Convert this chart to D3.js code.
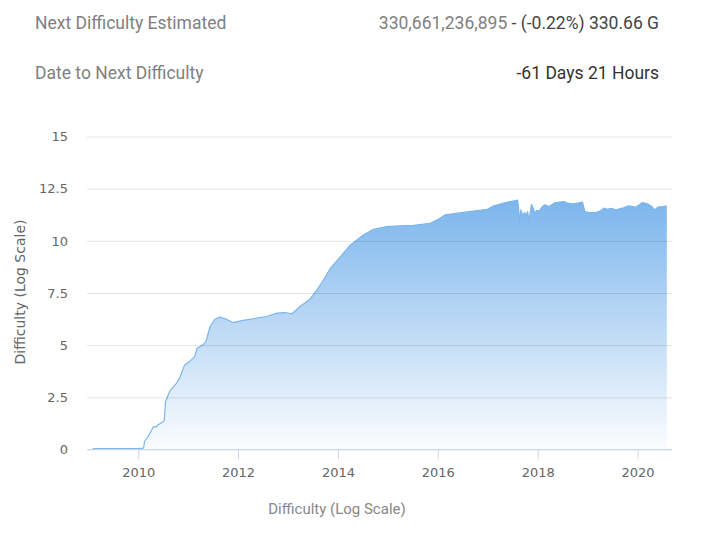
<!DOCTYPE html>
<html>
<head>
<meta charset="utf-8">
<script src="https://cdn.jsdelivr.net/npm/d3@7"></script>
<style>
  html, body { margin: 0; padding: 0; background: #fff; }
  svg { display: block; }
</style>
</head>
<body>
<svg id="chart" width="704" height="546"></svg>
<script>
// ---- Data (log10 of difficulty) ----
const dates = [
  "2009-02-06","2009-12-28","2010-02-13","2010-02-20","2010-03-18","2010-04-27","2010-05-12","2010-05-30",
  "2010-07-09","2010-07-14","2010-07-24","2010-08-22","2010-10-12","2010-11-03","2010-12-10","2011-01-15",
  "2011-02-21","2011-03-11","2011-04-23","2011-05-15","2011-06-14","2011-07-19","2011-08-25","2011-10-12",
  "2011-11-28","2012-02-10","2012-05-19","2012-07-31","2012-10-16","2012-12-13","2013-02-03","2013-04-02",
  "2013-06-14","2013-08-04","2013-09-21","2013-11-10","2014-01-23","2014-04-06","2014-07-09","2014-09-21",
  "2014-12-28","2015-04-05","2015-07-13","2015-11-10","2016-01-01","2016-02-28","2016-08-08","2017-01-01",
  "2017-02-18","2017-05-15","2017-07-27","2017-08-11","2017-08-19","2017-08-26","2017-09-03","2017-09-16",
  "2017-10-01","2017-10-13","2017-10-23","2017-11-03","2017-11-12","2017-11-21","2017-12-05","2017-12-16",
  "2017-12-27","2018-01-15","2018-02-09","2018-02-27","2018-03-29","2018-05-04","2018-06-10","2018-07-16",
  "2018-08-11","2018-09-16","2018-10-23","2018-11-28","2018-12-16","2019-01-15","2019-03-07","2019-04-12",
  "2019-05-04","2019-05-30","2019-06-24","2019-07-31","2019-09-16","2019-10-30","2019-12-24","2020-01-18",
  "2020-02-09","2020-03-17","2020-04-19","2020-05-07","2020-06-01","2020-07-08","2020-08-06"
];
const values = [
  0.02, 0.02, 0.04, 0.36, 0.60, 1.08, 1.04, 1.16,
  1.32, 1.38, 2.28, 2.76, 3.16, 3.40, 4.03, 4.19,
  4.43, 4.83, 4.99, 5.15, 5.87, 6.22, 6.32, 6.22,
  6.06, 6.16, 6.27, 6.35, 6.51, 6.54, 6.48, 6.83,
  7.18, 7.63, 8.10, 8.66, 9.22, 9.78, 10.26, 10.53,
  10.66, 10.69, 10.72, 10.82, 10.98, 11.22, 11.36, 11.49,
  11.65, 11.81, 11.91, 11.93, 11.40, 10.85, 11.46, 11.20,
  11.33, 11.18, 11.38, 10.90, 11.38, 11.72, 11.50, 11.28,
  11.43, 11.41, 11.62, 11.70, 11.62, 11.78, 11.83, 11.86,
  11.78, 11.75, 11.78, 11.83, 11.38, 11.33, 11.33, 11.43,
  11.54, 11.49, 11.54, 11.46, 11.54, 11.65, 11.59, 11.70,
  11.81, 11.75, 11.62, 11.46, 11.59, 11.62, 11.65
];
const yTicks = [0, 2.5, 5, 7.5, 10, 12.5, 15];
const xTickYears = ["2010", "2012", "2014", "2016", "2018", "2020"];

const headerLabels = ["Next Difficulty Estimated", "Date to Next Difficulty"];
const estimateNumber = "330,661,236,895";
const estimateRest = " - (-0.22%) 330.66 G";
const timeLeft = "-61 Days 21 Hours";
const yTitle = "Difficulty (Log Scale)";
const xTitle = "Difficulty (Log Scale)";

(function () {
  const svg = d3.select("#chart");
  const pLeft = 87, pRight = 672, pTop = 136, pBottom = 449;
  const parse = d3.timeParse("%Y-%m-%d");
  const data = dates.map((d, i) => ({ date: parse(d), value: values[i] }));

  const x = d3.scaleTime()
    .domain([parse("2008-12-26"), parse("2020-09-13")])
    .range([pLeft, pRight]);
  const y = d3.scaleLinear().domain([0, 15]).range([pBottom, pTop]);

  // ---- Header ----
  const hdrFont = "Roboto, 'Open Sans', sans-serif";
  const hdrSize = 17.5;
  svg.append("text").attr("x", 35).attr("y", 29)
    .attr("font-family", hdrFont).attr("font-size", hdrSize).attr("fill", "#808080")
    .text(headerLabels[0]);
  svg.append("text").attr("x", 35).attr("y", 79)
    .attr("font-family", hdrFont).attr("font-size", hdrSize).attr("fill", "#808080")
    .text(headerLabels[1]);
  const est = svg.append("text").attr("x", 659).attr("y", 29)
    .attr("text-anchor", "end")
    .attr("font-family", hdrFont).attr("font-size", hdrSize)
    .style("white-space", "pre");
  est.append("tspan").attr("fill", "#808080").text(estimateNumber);
  est.append("tspan").attr("fill", "#444").text(estimateRest);
  svg.append("text").attr("x", 659).attr("y", 79)
    .attr("text-anchor", "end")
    .attr("font-family", hdrFont).attr("font-size", hdrSize).attr("fill", "#333")
    .text(timeLeft);

  // ---- Gradient ----
  const yMin = y(d3.max(values));
  const defs = svg.append("defs");
  const grad = defs.append("linearGradient").attr("id", "areaGrad")
    .attr("gradientUnits", "userSpaceOnUse")
    .attr("x1", 0).attr("x2", 0).attr("y1", yMin).attr("y2", pBottom);
  grad.append("stop").attr("offset", 0).attr("stop-color", "#7cb5ec").attr("stop-opacity", 1);
  grad.append("stop").attr("offset", 1).attr("stop-color", "#7cb5ec").attr("stop-opacity", 0.03);

  // ---- Area + line ----
  const area = d3.area().x(d => x(d.date)).y0(pBottom).y1(d => y(d.value));
  const line = d3.line().x(d => x(d.date)).y(d => y(d.value));
  svg.append("path").datum(data).attr("d", area).attr("fill", "url(#areaGrad)");
  svg.append("path").datum(data).attr("d", line)
    .attr("fill", "none").attr("stroke", "#7cb5ec").attr("stroke-width", 1.2)
    .attr("stroke-linejoin", "round");

  // ---- Y axis with gridlines ----
  const yAxis = svg.append("g").attr("transform", `translate(${pLeft},0.5)`)
    .call(d3.axisLeft(y).tickValues(yTicks).tickSize(-(pRight - pLeft)).tickPadding(19)
      .tickFormat(d3.format("")));
  yAxis.select(".domain").remove();
  yAxis.selectAll(".tick line").attr("stroke", "rgba(0,0,0,0.1)").attr("stroke-width", 1);
  yAxis.selectAll(".tick text")
    .attr("font-family", "'DejaVu Sans', sans-serif").attr("font-size", 13).attr("fill", "#666");

  // ---- X axis ----
  const xAxis = svg.append("g").attr("transform", `translate(0.5,${pBottom + 0.5})`)
    .call(d3.axisBottom(x).tickValues(xTickYears.map(s => parse(s + "-01-01")))
      .tickSize(10).tickPadding(8).tickFormat(d3.timeFormat("%Y")));
  xAxis.select(".domain").attr("stroke", "#ccd6eb")
    .attr("d", `M${pLeft - 0.5},0H${pRight - 0.5}`);
  xAxis.selectAll(".tick line").attr("stroke", "#ccd6eb");
  xAxis.selectAll(".tick text")
    .attr("font-family", "'DejaVu Sans', sans-serif").attr("font-size", 13).attr("fill", "#666");

  // ---- Titles ----
  svg.append("text")
    .attr("transform", "translate(25,292) rotate(-90)")
    .attr("text-anchor", "middle")
    .attr("font-family", "'DejaVu Sans', sans-serif").attr("font-size", 14).attr("fill", "#666")
    .text(yTitle);
  svg.append("text").attr("x", 337).attr("y", 514)
    .attr("text-anchor", "middle")
    .attr("font-family", hdrFont).attr("font-size", 15).attr("fill", "#888")
    .text(xTitle);
})();
</script>
</body>
</html>
